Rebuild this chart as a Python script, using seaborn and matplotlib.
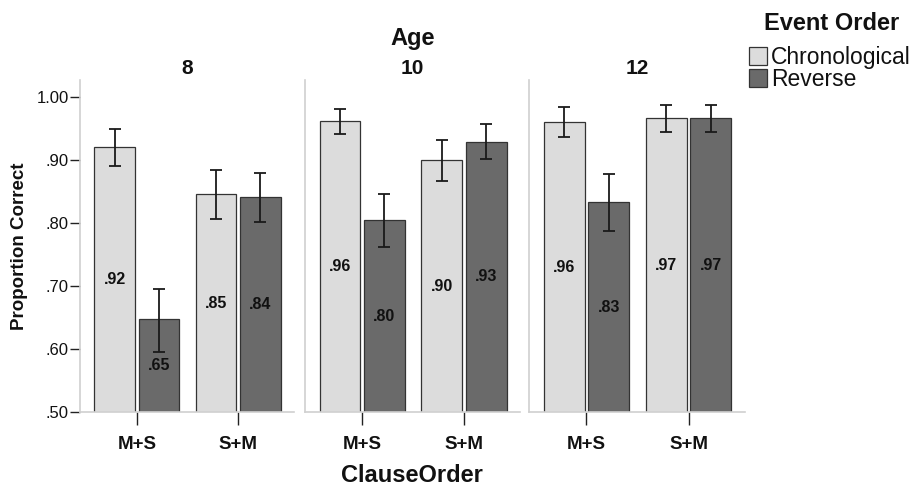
import matplotlib
matplotlib.use('Agg')
import matplotlib.pyplot as plt
import seaborn as sns
import numpy as np
import pandas as pd

sns.set_style('white')
plt.rcParams['font.family'] = ['Liberation Sans', 'DejaVu Sans']
plt.rcParams['text.color'] = '#111111'
plt.rcParams['xtick.color'] = '#111111'
plt.rcParams['ytick.color'] = '#111111'

ages = ['8', '10', '12']
clause_orders = ['M+S', 'S+M']
event_orders = ['Chronological', 'Reverse']

# values per age, clause order M+S then S+M
chrono_mean = [0.921, 0.846, 0.962, 0.900, 0.960, 0.966]
chrono_lo = [0.891, 0.807, 0.942, 0.867, 0.937, 0.944]
chrono_hi = [0.949, 0.884, 0.981, 0.931, 0.984, 0.988]
reverse_mean = [0.647, 0.842, 0.804, 0.929, 0.833, 0.966]
reverse_lo = [0.595, 0.802, 0.762, 0.902, 0.787, 0.944]
reverse_hi = [0.696, 0.880, 0.846, 0.957, 0.878, 0.988]

rows = []
for i, age in enumerate(ages):
    for j, co in enumerate(clause_orders):
        k = i * 2 + j
        rows.append([age, co, 'Chronological', chrono_mean[k], chrono_lo[k], chrono_hi[k]])
        rows.append([age, co, 'Reverse', reverse_mean[k], reverse_lo[k], reverse_hi[k]])
df = pd.DataFrame(rows, columns=['Age', 'ClauseOrder', 'EventOrder', 'Mean', 'Lo', 'Hi'])

colors = {'Chronological': '#dcdcdc', 'Reverse': '#6a6a6a'}

W, H = 913, 487
fig = plt.figure(figsize=(W / 100, H / 100), dpi=100)
panel_x = [(80, 294), (305, 520), (529, 745)]
top, bottom = 80, 412

handles, labels = None, None
for i, age in enumerate(ages):
    x0, x1 = panel_x[i]
    ax = fig.add_axes([x0 / W, 1 - bottom / H, (x1 - x0) / W, (bottom - top) / H])
    sub = df[df['Age'] == age]
    sns.barplot(data=sub, x='ClauseOrder', y='Mean', hue='EventOrder',
                order=clause_orders, hue_order=event_orders, palette=colors,
                width=0.87, gap=0.08, errorbar=None, edgecolor='#333333',
                linewidth=0.9, ax=ax, legend=(i == 0))
    if i == 0:
        handles, labels = ax.get_legend_handles_labels()
        ax.get_legend().remove()

    # error bars and value labels
    for cont, ev in zip(ax.containers, event_orders):
        d = sub[sub['EventOrder'] == ev].set_index('ClauseOrder').loc[clause_orders]
        for bar, (_, r) in zip(cont, d.iterrows()):
            xc = bar.get_x() + bar.get_width() / 2
            ax.errorbar(xc, r['Mean'], yerr=[[r['Mean'] - r['Lo']], [r['Hi'] - r['Mean']]],
                        fmt='none', ecolor='#1a1a1a', elinewidth=1.3, capsize=4, capthick=1.3)
            ax.text(xc, (0.5 + r['Mean']) / 2, f"{r['Mean']:.2f}".lstrip('0'),
                    ha='center', va='center', fontsize=11.5, fontweight='bold',
                    color='#111111')

    ax.set_ylim(0.5, 1.027)
    ax.set_xlim(-0.56, 1.55)
    ax.set_xlabel('')
    ax.set_ylabel('')
    ax.set_title(age, fontsize=15, fontweight='bold', pad=4)
    for s in ['top', 'right']:
        ax.spines[s].set_visible(False)
    for s in ['left', 'bottom']:
        ax.spines[s].set_color('#d0d0d0')
        ax.spines[s].set_linewidth(1.2)
    ax.tick_params(axis='x', bottom=True, length=9, width=1, color='#222222', pad=8)
    for t in ax.get_xticklabels():
        t.set_fontsize(13.5)
        t.set_fontweight('bold')
    if i == 0:
        ax.set_yticks([0.5, 0.6, 0.7, 0.8, 0.9, 1.0])
        ax.set_yticklabels(['.50', '.60', '.70', '.80', '.90', '1.00'], fontsize=12)
        ax.tick_params(axis='y', left=True, length=7, width=1, color='#222222', pad=1)
    else:
        ax.tick_params(axis='y', left=False, labelleft=False)

fig.text(412.5 / W, 1 - 44.5 / H, 'Age', ha='center', va='baseline', fontsize=17, fontweight='bold')
fig.text(20 / W, 1 - 246 / H, 'Proportion Correct', rotation=90, ha='center', va='center',
         fontsize=13.5, fontweight='bold')
fig.text(412 / W, 1 - 482 / H, 'ClauseOrder', ha='center', va='baseline', fontsize=17, fontweight='bold')

# legend title placed on its own, entries below
fig.text(832 / W, 1 - 30 / H, 'Event Order', ha='center', va='baseline', fontsize=17, fontweight='bold')
leg = fig.legend(handles, labels, loc='upper left', bbox_to_anchor=(749 / W, 1 - 46 / H),
                 frameon=False, fontsize=16.5,
                 handlelength=0.8, handleheight=0.8, handletextpad=0.15,
                 labelspacing=-0.05, borderaxespad=0, borderpad=0)
for p in leg.get_patches():
    p.set_edgecolor('#333333')

fig.savefig('out.png', dpi=100)
